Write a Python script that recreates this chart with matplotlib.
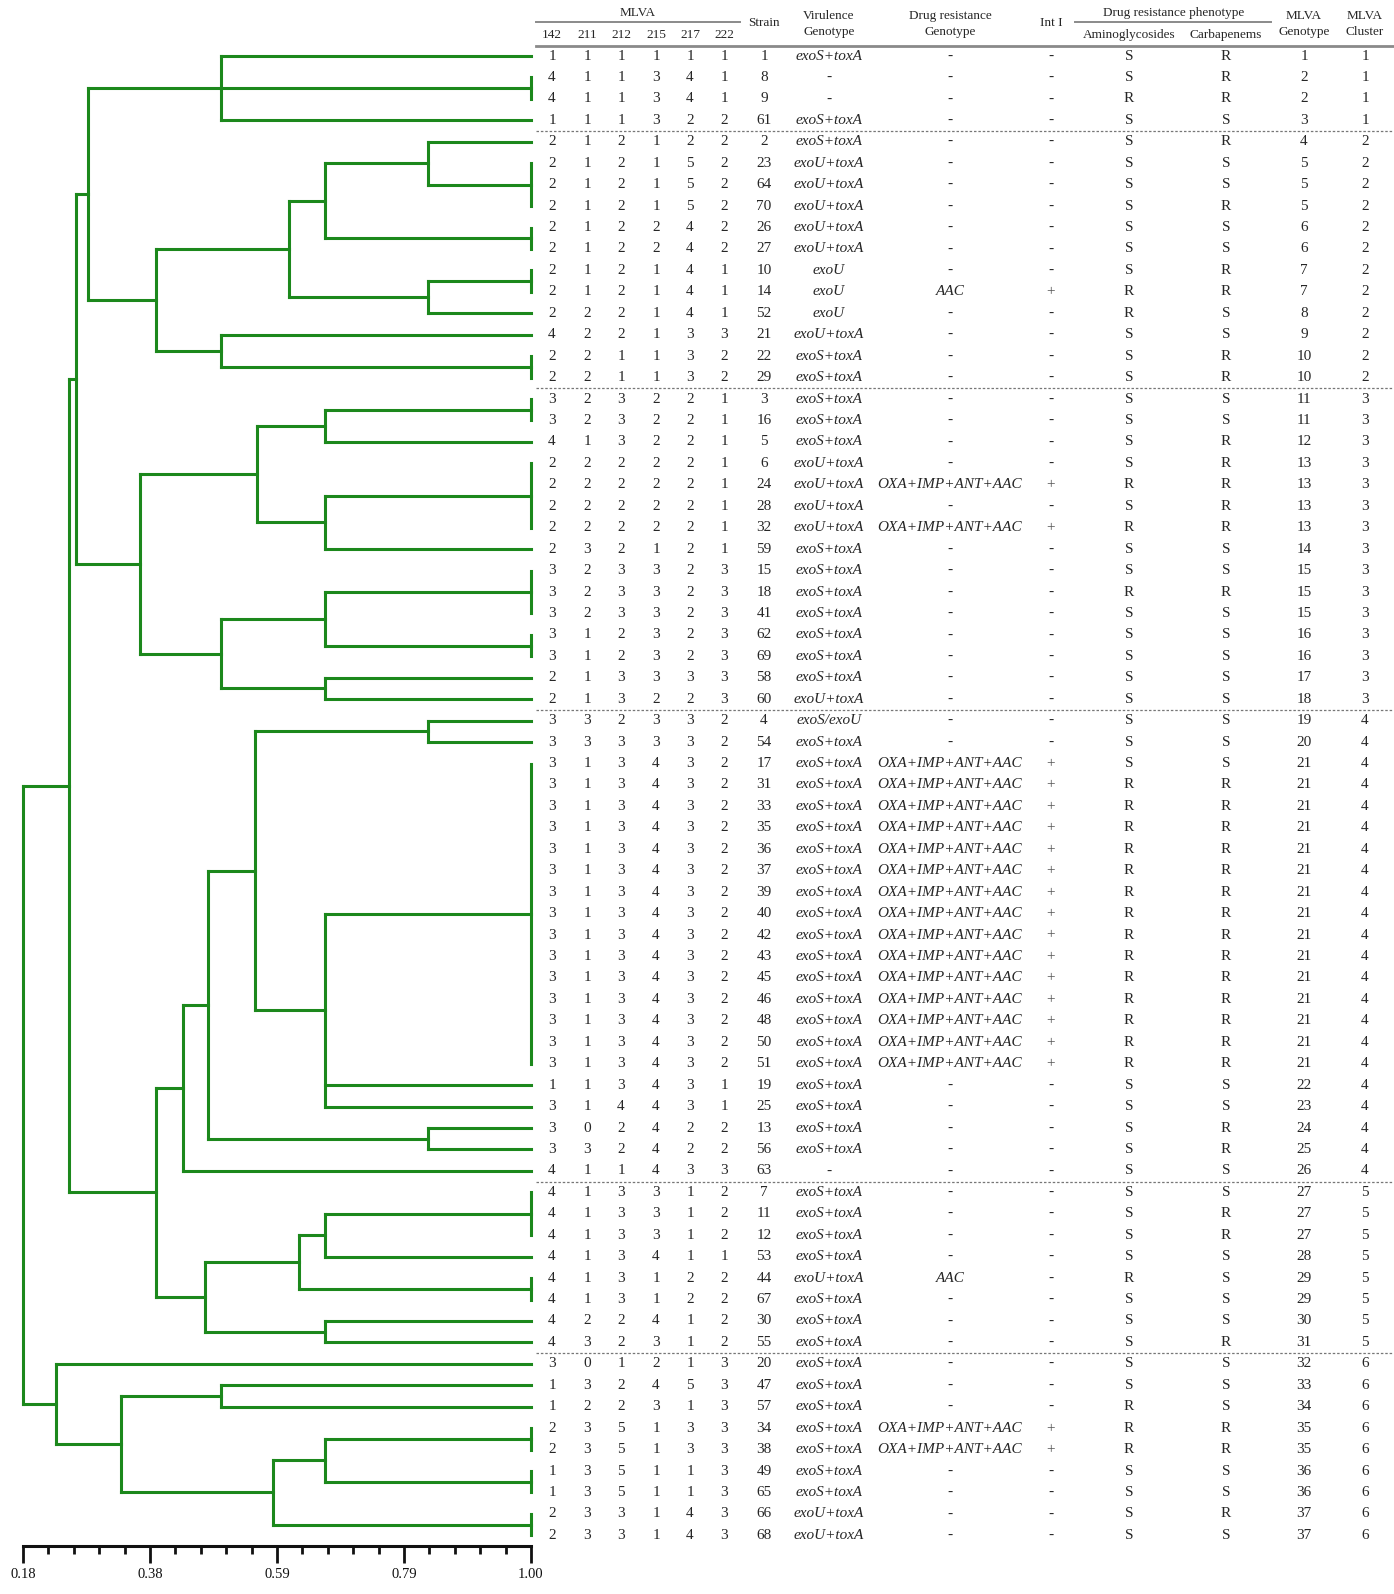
import numpy as np
import matplotlib
matplotlib.use('Agg')
import matplotlib.pyplot as plt

plt.rcParams['font.family'] = ['Liberation Serif', 'DejaVu Serif']

# ------------------------------------------------------------------ data
loci = ['142', '211', '212', '215', '217', '222']

vntr_142 = [1, 4, 4, 1,
            2, 2, 2, 2, 2, 2, 2, 2, 2, 4, 2, 2,
            3, 3, 4, 2, 2, 2, 2, 2, 3, 3, 3, 3, 3, 2, 2,
            3, 3] + [3] * 15 + [1, 3, 3, 3, 4] + \
           [4, 4, 4, 4, 4, 4, 4, 4,
            3, 1, 1, 2, 2, 1, 1, 2, 2]
vntr_211 = [1, 1, 1, 1,
            1, 1, 1, 1, 1, 1, 1, 1, 2, 2, 2, 2,
            2, 2, 1, 2, 2, 2, 2, 3, 2, 2, 2, 1, 1, 1, 1,
            3, 3] + [1] * 15 + [1, 1, 0, 3, 1] + \
           [1, 1, 1, 1, 1, 1, 2, 3,
            0, 3, 2, 3, 3, 3, 3, 3, 3]
vntr_212 = [1, 1, 1, 1,
            2, 2, 2, 2, 2, 2, 2, 2, 2, 2, 1, 1,
            3, 3, 3, 2, 2, 2, 2, 2, 3, 3, 3, 2, 2, 3, 3,
            2, 3] + [3] * 15 + [3, 4, 2, 2, 1] + \
           [3, 3, 3, 3, 3, 3, 2, 2,
            1, 2, 2, 5, 5, 5, 5, 3, 3]
vntr_215 = [1, 3, 3, 3,
            1, 1, 1, 1, 2, 2, 1, 1, 1, 1, 1, 1,
            2, 2, 2, 2, 2, 2, 2, 1, 3, 3, 3, 3, 3, 3, 2,
            3, 3] + [4] * 15 + [4, 4, 4, 4, 4] + \
           [3, 3, 3, 4, 1, 1, 4, 3,
            2, 4, 3, 1, 1, 1, 1, 1, 1]
vntr_217 = [1, 4, 4, 2,
            2, 5, 5, 5, 4, 4, 4, 4, 4, 3, 3, 3,
            2, 2, 2, 2, 2, 2, 2, 2, 2, 2, 2, 2, 2, 3, 2,
            3, 3] + [3] * 15 + [3, 3, 2, 2, 3] + \
           [1, 1, 1, 1, 2, 2, 1, 1,
            1, 5, 1, 3, 3, 1, 1, 4, 4]
vntr_222 = [1, 1, 1, 2,
            2, 2, 2, 2, 2, 2, 1, 1, 1, 3, 2, 2,
            1, 1, 1, 1, 1, 1, 1, 1, 3, 3, 3, 3, 3, 3, 3,
            2, 2] + [2] * 15 + [1, 1, 2, 2, 3] + \
           [2, 2, 2, 1, 2, 2, 2, 2,
            3, 3, 3, 3, 3, 3, 3, 3, 3]

strain = [1, 8, 9, 61,
          2, 23, 64, 70, 26, 27, 10, 14, 52, 21, 22, 29,
          3, 16, 5, 6, 24, 28, 32, 59, 15, 18, 41, 62, 69, 58, 60,
          4, 54, 17, 31, 33, 35, 36, 37, 39, 40, 42, 43, 45, 46, 48, 50, 51,
          19, 25, 13, 56, 63,
          7, 11, 12, 53, 44, 67, 30, 55,
          20, 47, 57, 34, 38, 49, 65, 66, 68]

ST, UT, U0 = 'exoS+toxA', 'exoU+toxA', 'exoU'
virulence = [ST, '-', '-', ST,
             ST, UT, UT, UT, UT, UT, U0, U0, U0, UT, ST, ST,
             ST, ST, ST, UT, UT, UT, UT, ST, ST, ST, ST, ST, ST, ST, UT,
             'exoS/exoU'] + [ST] * 20 + ['-'] + \
            [ST, ST, ST, ST, UT, ST, ST, ST,
             ST, ST, ST, ST, ST, ST, ST, UT, UT]

OX = 'OXA+IMP+ANT+AAC'
resist_genotype = ['-'] * 11 + ['AAC'] + ['-'] * 8 + [OX, '-', OX] + ['-'] * 10 + \
                  [OX] * 15 + ['-'] * 9 + ['AAC'] + ['-'] * 6 + [OX, OX] + ['-'] * 4
int_i = ['-'] * 11 + ['+'] + ['-'] * 8 + ['+', '-', '+'] + ['-'] * 10 + \
        ['+'] * 15 + ['-'] * 16 + ['+', '+'] + ['-'] * 4

aminoglycosides = ['S', 'S', 'R', 'S',
                   'S', 'S', 'S', 'S', 'S', 'S', 'S', 'R', 'R', 'S', 'S', 'S',
                   'S', 'S', 'S', 'S', 'R', 'S', 'R', 'S', 'S', 'R', 'S', 'S', 'S', 'S', 'S',
                   'S', 'S', 'S'] + ['R'] * 14 + ['S', 'S', 'S', 'S', 'S'] + \
                  ['S', 'S', 'S', 'S', 'R', 'S', 'S', 'S',
                   'S', 'S', 'R', 'R', 'R', 'S', 'S', 'S', 'S']
carbapenems = ['R', 'R', 'R', 'S',
               'R', 'S', 'S', 'R', 'S', 'S', 'R', 'R', 'S', 'S', 'R', 'R',
               'S', 'S', 'R', 'R', 'R', 'R', 'R', 'S', 'S', 'R', 'S', 'S', 'S', 'S', 'S',
               'S', 'S', 'S'] + ['R'] * 14 + ['S', 'S', 'R', 'R', 'S'] + \
              ['S', 'R', 'R', 'S', 'S', 'S', 'S', 'R',
               'S', 'S', 'S', 'R', 'R', 'S', 'S', 'R', 'S']

mlva_genotype = [1, 2, 2, 3,
                 4, 5, 5, 5, 6, 6, 7, 7, 8, 9, 10, 10,
                 11, 11, 12, 13, 13, 13, 13, 14, 15, 15, 15, 16, 16, 17, 18,
                 19, 20] + [21] * 15 + [22, 23, 24, 25, 26] + \
                [27, 27, 27, 28, 29, 29, 30, 31,
                 32, 33, 34, 35, 35, 36, 36, 37, 37]
mlva_cluster = [1] * 4 + [2] * 12 + [3] * 15 + [4] * 22 + [5] * 8 + [6] * 9

# dendrogram (UPGMA) merges: children are table rows (0..69) or earlier merges (70 + k)
merge_children = [
    [1, 2], [0, 70, 3], [5, 6, 7], [4, 72], [8, 9], [73, 74], [10, 11], [76, 12],
    [75, 77], [14, 15], [13, 79], [78, 80], [71, 81],
    [16, 17], [83, 18], [19, 20, 21, 22], [85, 23], [84, 86], [24, 25, 26], [27, 28],
    [88, 89], [29, 30], [90, 91], [87, 92], [82, 93],
    [31, 32], list(range(33, 48)), [96, 48, 49], [95, 97], [50, 51], [98, 99], [100, 52],
    [53, 54, 55], [102, 56], [57, 58], [103, 104], [59, 60], [105, 106], [101, 107],
    [94, 108],
    [62, 63], [64, 65], [66, 67], [111, 112], [68, 69], [113, 114], [110, 115], [61, 116],
    [109, 117],
]
merge_similarity = [
    1.00, 0.50, 1.00, 0.833, 1.00, 0.667, 1.00, 0.833,
    0.61, 1.00, 0.50, 0.395, 0.285,
    1.00, 0.667, 1.00, 0.667, 0.557, 1.00, 1.00,
    0.667, 0.667, 0.50, 0.369, 0.266,
    0.833, 1.00, 0.667, 0.554, 0.833, 0.478, 0.439,
    1.00, 0.667, 1.00, 0.625, 0.667, 0.473, 0.394,
    0.254,
    0.50, 1.00, 1.00, 0.667, 1.00, 0.583, 0.338, 0.234,
    0.18,
]

axis_ticklabels = ['0.18', '0.38', '0.59', '0.79', '1.00']

# ------------------------------------------------------------------ layout
W, H = 1394, 1594
fig = plt.figure(figsize=(W / 100, H / 100), dpi=100)
n = len(strain)
row0_px, row_step = 56.0, 21.44
y_top_px = row0_px - 0.5 * row_step
y_bot_px = row0_px + (n - 0.5) * row_step
bottom = 1 - y_bot_px / H
height = (y_bot_px - y_top_px) / H

ax = fig.add_axes([23 / W, bottom, (531 - 23) / W, height])
axt = fig.add_axes([536 / W, bottom, (W - 536) / W, height], sharey=ax)
ax.set_ylim(n - 0.5, -0.5)

green = '#1c881c'
lw = 2.2
pos = {i: (1.0, float(i)) for i in range(n)}
for k, (kids, s) in enumerate(zip(merge_children, merge_similarity)):
    ys = [pos[c][1] for c in kids]
    y0, y1 = min(ys), max(ys)
    ax.plot([s, s], [y0, y1], color=green, lw=lw, solid_capstyle='projecting', clip_on=False)
    for c in kids:
        cx, cy = pos[c]
        if cx > s:
            ax.plot([s, cx], [cy, cy], color=green, lw=lw, solid_capstyle='projecting',
                    clip_on=False)
    pos[n + k] = (s, (y0 + y1) / 2)

ax.set_xlim(0.18, 1.00)
ax.set_xticks(np.linspace(0.18, 1.00, 5))
ax.set_xticklabels(axis_ticklabels, fontsize=10.5, color='#111111')
ax.set_xticks(np.linspace(0.18, 1.00, 21), minor=True)
ax.set_yticks([])
for sp in ['top', 'left', 'right']:
    ax.spines[sp].set_visible(False)
ax.spines['bottom'].set_linewidth(2.2)
ax.spines['bottom'].set_color('#111111')
ax.tick_params(axis='x', which='major', direction='out', length=12, width=2.0,
               color='#111111', pad=4)
ax.tick_params(axis='x', which='minor', direction='out', length=6, width=2.0,
               color='#111111')
ax.patch.set_alpha(0)

# ------------------------------------------------------------------ table
axt.set_xlim(536, W)
axt.axis('off')
axt.patch.set_alpha(0)
txt = '#262626'
fs = 11
hfs = 9.5
locus_x = [552, 587, 621, 656, 690, 724]
col_x = dict(strain=764, vir=829, drg=950, inti=1051, amino=1129, carb=1226, geno=1304, clus=1365)

columns = [vntr_142, vntr_211, vntr_212, vntr_215, vntr_217, vntr_222]
for i in range(n):
    for x, col in zip(locus_x, columns):
        axt.text(x, i, str(col[i]), ha='center', va='center', fontsize=fs, color=txt)
    axt.text(col_x['strain'], i, str(strain[i]), ha='center', va='center', fontsize=fs, color=txt)
    v = virulence[i]
    axt.text(col_x['vir'], i, v, ha='center', va='center', fontsize=fs, color=txt,
             style='normal' if v == '-' else 'italic')
    d = resist_genotype[i]
    axt.text(col_x['drg'], i, d, ha='center', va='center', fontsize=fs, color=txt,
             style='normal' if d == '-' else 'italic')
    axt.text(col_x['inti'], i, int_i[i], ha='center', va='center', fontsize=fs,
             color='#555555' if int_i[i] == '+' else txt)
    axt.text(col_x['amino'], i, aminoglycosides[i], ha='center', va='center', fontsize=fs, color=txt)
    axt.text(col_x['carb'], i, carbapenems[i], ha='center', va='center', fontsize=fs, color=txt)
    axt.text(col_x['geno'], i, str(mlva_genotype[i]), ha='center', va='center', fontsize=fs, color=txt)
    axt.text(col_x['clus'], i, str(mlva_cluster[i]), ha='center', va='center', fontsize=fs, color=txt)

# cluster separators
for i in range(1, n):
    if mlva_cluster[i] != mlva_cluster[i - 1]:
        axt.plot([536, W], [i - 0.5, i - 0.5], color='#777777', lw=0.9,
                 linestyle=(0, (2.0, 1.5)), clip_on=False)

# header
def h(x, y, s, **kw):
    axt.text(x, y, s, ha='center', va='center', fontsize=hfs, color=txt, clip_on=False, **kw)

h((locus_x[0] + locus_x[-1]) / 2, -2.0, 'MLVA')
for x, name in zip(locus_x, loci):
    h(x, -1.0, name)
h(col_x['strain'], -1.53, 'Strain')
h(col_x['vir'], -1.85, 'Virulence')
h(col_x['vir'], -1.14, 'Genotype')
h(col_x['drg'], -1.85, 'Drug resistance')
h(col_x['drg'], -1.14, 'Genotype')
h(col_x['inti'], -1.53, 'Int I')
h((col_x['amino'] + col_x['carb']) / 2 - 4, -2.0, 'Drug resistance phenotype')
h(col_x['amino'], -1.0, 'Aminoglycosides')
h(col_x['carb'], -1.0, 'Carbapenems')
h(col_x['geno'], -1.85, 'MLVA')
h(col_x['geno'], -1.14, 'Genotype')
h(col_x['clus'], -1.85, 'MLVA')
h(col_x['clus'], -1.14, 'Cluster')

axt.plot([536, 740], [-1.57, -1.57], color='#8a8a8a', lw=1.4, clip_on=False)
axt.plot([1075, 1271], [-1.57, -1.57], color='#8a8a8a', lw=1.4, clip_on=False)
axt.plot([536, W], [-0.48, -0.48], color='#8a8a8a', lw=2.0, clip_on=False)

fig.savefig('out.png', dpi=100, facecolor='white')
